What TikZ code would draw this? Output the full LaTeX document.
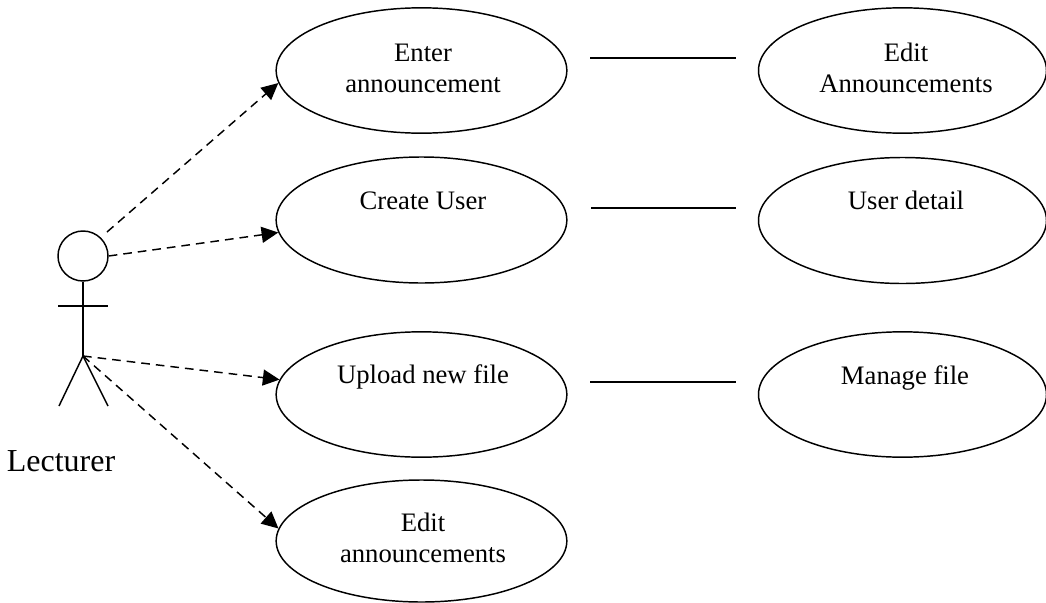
\documentclass[tikz,border=0pt]{standalone}
\usepackage{fontspec}
\setmainfont{Liberation Serif}
\usetikzlibrary{arrows.meta,shapes.geometric}
\tikzset{
  usecase/.style={draw=black,line width=1.1pt,shape=ellipse,inner sep=0pt,minimum width=218pt},
  ucright/.style={usecase,minimum width=216pt},
  uctext/.style={font=\fontsize{20}{23.2}\selectfont,align=center,inner sep=0pt,anchor=base},
  dep/.style={draw=black,line width=1.1pt,dash pattern=on 6.5pt off 4.5pt,-{Triangle[length=12.5pt,width=12pt]}},
  link/.style={draw=black,line width=1.1pt},
  actorline/.style={draw=black,line width=1.1pt}
}
\begin{document}
\begin{tikzpicture}[x=0.75pt,y=-0.75pt]
\useasboundingbox (0,0) rectangle (1046,603);
\node[usecase,minimum height=94pt] (enter) at (421.5,70.5) {};
\node[usecase,minimum height=94.5pt] (create) at (421.5,220) {};
\node[usecase,minimum height=94pt] (upload) at (421.5,394.5) {};
\node[usecase,minimum height=91.5pt] (editann) at (421.5,541) {};
\node[ucright,minimum height=94pt] (editA) at (902.5,70.5) {};
\node[ucright,minimum height=94.5pt] (detail) at (902.5,220.5) {};
\node[ucright,minimum height=94pt] (manage) at (902.5,394.5) {};
\node[uctext] (enterT) at (423,92) {Enter\\announcement};
\node[uctext] (createT) at (423,209) {Create User};
\node[uctext] (uploadT) at (423,383) {Upload new file};
\node[uctext] (editannT) at (423,562) {Edit\\announcements};
\node[uctext] (editAT) at (906,92) {Edit\\Announcements};
\node[uctext] (detailT) at (906,209) {User detail};
\node[uctext] (manageT) at (905,384) {Manage file};
% actor
\node[draw=black,line width=1.1pt,shape=circle,minimum size=37.5pt,inner sep=0pt] (head) at (83,256) {};
\coordinate (hip) at (83,356);
\coordinate (armL) at (58,306);
\coordinate (armR) at (108,306);
\coordinate (legL) at (59,406);
\coordinate (legR) at (108,406);
\coordinate (a1) at (107,232);
\draw[actorline] (head.south) -- (hip);
\draw[actorline] (armL) -- (armR);
\draw[actorline] (legL) -- (hip) -- (legR);
\node[font=\fontsize{24}{28}\selectfont,inner sep=0pt,anchor=base] (lecturer) at (61,471) {Lecturer};
% dependencies
\draw[dep] (a1) -- (enter.185);
\draw[dep] (head.east) -- (create.185);
\draw[dep] (hip) -- (upload.174);
\draw[dep] (hip) -- (editann.175);
% plain links
\coordinate (l1a) at (590,58); \coordinate (l1b) at (736,58);
\coordinate (l2a) at (591,208); \coordinate (l2b) at (736,208);
\coordinate (l3a) at (590,382); \coordinate (l3b) at (736,382);
\draw[link,line width=1.7pt] (l1a) -- (l1b);
\draw[link,line width=1.3pt] (l2a) -- (l2b);
\draw[link] (l3a) -- (l3b);
\end{tikzpicture}
\end{document}
